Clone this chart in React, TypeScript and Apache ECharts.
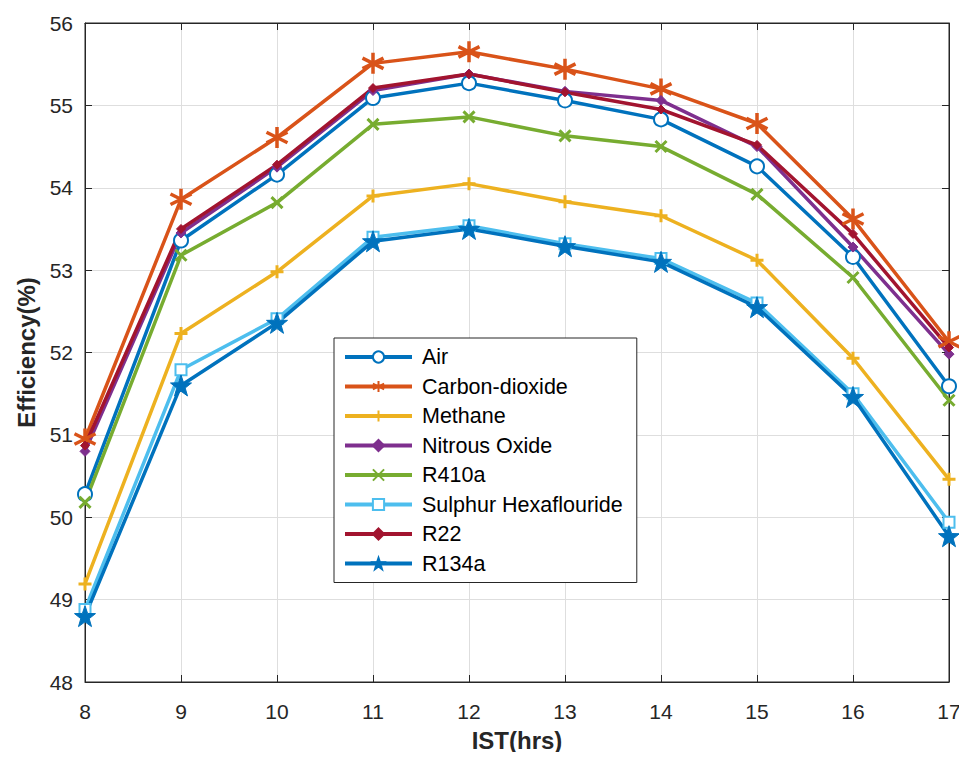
import React, { useEffect, useRef } from "react";
import * as echarts from "echarts";

// Hours of the day (IST)
const hours = [8, 9, 10, 11, 12, 13, 14, 15, 16, 17];

// Efficiency (%) per working gas
const air = [50.28, 53.36, 54.16, 55.09, 55.27, 55.06, 54.83, 54.26, 53.16, 51.59];
const carbonDioxide = [50.95, 53.86, 54.61, 55.51, 55.65, 55.44, 55.2, 54.78, 53.62, 52.13];
const methane = [49.19, 52.23, 52.98, 53.9, 54.05, 53.83, 53.66, 53.12, 51.93, 50.46];
const nitrousOxide = [50.8, 53.45, 54.25, 55.18, 55.38, 55.17, 55.06, 54.5, 53.28, 51.98];
const r410a = [50.18, 53.18, 53.82, 54.77, 54.86, 54.63, 54.5, 53.92, 52.91, 51.42];
const sulphurHexafluoride = [48.88, 51.79, 52.41, 53.4, 53.54, 53.32, 53.14, 52.6, 51.5, 49.94];
const r22 = [50.87, 53.5, 54.28, 55.21, 55.38, 55.16, 54.95, 54.52, 53.44, 52.06];
const r134a = [48.8, 51.6, 52.36, 53.35, 53.5, 53.29, 53.1, 52.55, 51.46, 49.77];

const seriesNames = [
  "Air",
  "Carbon-dioxide",
  "Methane",
  "Nitrous Oxide",
  "R410a",
  "Sulphur Hexaflouride",
  "R22",
  "R134a",
];

const yTicks = [48, 49, 50, 51, 52, 53, 54, 55, 56];
const xTicks = hours;

// Marker glyphs
const asterisk = "path://M0,-10L0,10M-8.66,-5L8.66,5M-8.66,5L8.66,-5";
const plus = "path://M0,-10L0,10M-10,0L10,0";
const cross = "path://M-8,-8L8,8M-8,8L8,-8";
const pentagram = (() => {
  const pts: string[] = [];
  for (let k = 0; k < 10; k++) {
    const r = k % 2 === 0 ? 10 : 4;
    const a = ((-90 + k * 36) * Math.PI) / 180;
    pts.push(`${(r * Math.cos(a)).toFixed(2)},${(r * Math.sin(a)).toFixed(2)}`);
  }
  return "path://M" + pts.join("L") + "Z";
})();

const colors = {
  blue: "#0072BD",
  orange: "#D95319",
  yellow: "#EDB120",
  purple: "#7E2F8E",
  green: "#77AC30",
  cyan: "#4DBEEE",
  maroon: "#A2142F",
};

export default function App() {
  const ref = useRef<HTMLDivElement>(null);

  useEffect(() => {
    if (!ref.current) return;
    const chart = echarts.init(ref.current, undefined, { renderer: "svg" });

    const pair = (vals: number[]) => vals.map((v, i) => [hours[i], v]);

    const mk = (
      name: string,
      vals: number[],
      color: string,
      symbol: string,
      symbolSize: number,
      borderWidth: number
    ) => ({
      name,
      type: "line",
      data: pair(vals),
      symbol,
      symbolSize,
      showSymbol: true,
      lineStyle: { color, width: 3.5 },
      itemStyle: { color, borderColor: color, borderWidth },
      emphasis: { disabled: true },
    });

    const series = [
      mk(seriesNames[0], air, colors.blue, "emptyCircle", 14, 3),
      mk(seriesNames[1], carbonDioxide, colors.orange, asterisk, 21, 3.5),
      mk(seriesNames[2], methane, colors.yellow, plus, 13, 3),
      mk(seriesNames[3], nitrousOxide, colors.purple, "diamond", 10, 1),
      mk(seriesNames[4], r410a, colors.green, cross, 11, 3),
      mk(seriesNames[5], sulphurHexafluoride, colors.cyan, "emptyRect", 11, 3),
      mk(seriesNames[6], r22, colors.maroon, "diamond", 9, 1),
      mk(seriesNames[7], r134a, colors.blue, pentagram, 21, 1),
    ];

    const axisColor = "#262626";
    const labelFont = {
      fontFamily: "Liberation Sans, Arial, sans-serif",
      fontSize: 21,
      color: axisColor,
    };

    chart.setOption({
      animation: false,
      backgroundColor: "#ffffff",
      grid: {
        left: 85,
        right: 18,
        top: 23,
        bottom: 78,
        show: true,
        borderColor: axisColor,
        borderWidth: 1,
      },
      legend: {
        orient: "vertical",
        left: 334,
        top: 338,
        data: seriesNames,
        itemWidth: 67,
        itemHeight: 14,
        itemGap: 7.5,
        padding: [8, 14, 8, 9],
        borderColor: axisColor,
        borderWidth: 1,
        backgroundColor: "#ffffff",
        selectedMode: false,
        lineStyle: { width: 4 },
        textStyle: {
          ...labelFont,
          fontSize: 21.5,
          lineHeight: 22,
          color: "#000000",
          padding: [0, 0, 0, 5],
        },
      },
      xAxis: [
        {
          type: "value",
          min: 8,
          max: 17,
          interval: 1,
          position: "bottom",
          name: "IST(hrs)",
          nameLocation: "middle",
          nameGap: 46,
          nameTextStyle: { ...labelFont, fontSize: 24, fontWeight: "bold" },
          axisLine: { show: true, lineStyle: { color: axisColor, width: 1 } },
          axisTick: { show: true, inside: true, length: 7, lineStyle: { color: axisColor } },
          axisLabel: {
            ...labelFont,
            margin: 19,
            formatter: (v: number) => (xTicks.includes(v) ? String(v) : ""),
          },
          splitLine: { show: true, lineStyle: { color: "#dedede", width: 1 } },
        },
        {
          type: "value",
          min: 8,
          max: 17,
          interval: 1,
          position: "top",
          axisLine: { show: true, lineStyle: { color: axisColor, width: 1 } },
          axisTick: { show: true, inside: true, length: 7, lineStyle: { color: axisColor } },
          axisLabel: { show: false },
          splitLine: { show: false },
        },
      ],
      yAxis: [
        {
          type: "value",
          min: 48,
          max: 56,
          interval: 1,
          position: "left",
          name: "Efficiency(%)",
          nameLocation: "middle",
          nameGap: 43,
          nameTextStyle: { ...labelFont, fontSize: 24, fontWeight: "bold" },
          axisLine: { show: true, lineStyle: { color: axisColor, width: 1 } },
          axisTick: { show: true, inside: true, length: 7, lineStyle: { color: axisColor } },
          axisLabel: {
            ...labelFont,
            margin: 12,
            formatter: (v: number) => (yTicks.includes(v) ? String(v) : ""),
          },
          splitLine: { show: true, lineStyle: { color: "#dedede", width: 1 } },
        },
        {
          type: "value",
          min: 48,
          max: 56,
          interval: 1,
          position: "right",
          axisLine: { show: true, lineStyle: { color: axisColor, width: 1 } },
          axisTick: { show: true, inside: true, length: 7, lineStyle: { color: axisColor } },
          axisLabel: { show: false },
          splitLine: { show: false },
        },
      ],
      series,
    });

    return () => chart.dispose();
  }, []);

  return <div ref={ref} style={{ width: 967, height: 760, margin: -8 }} />;
}
